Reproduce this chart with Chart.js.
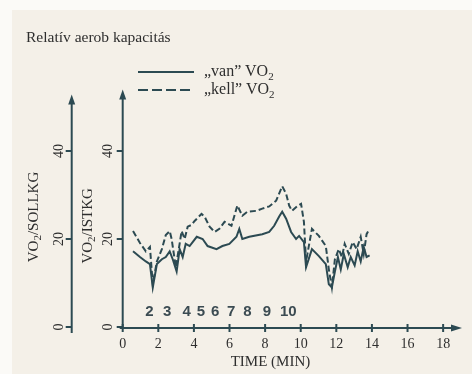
<!DOCTYPE html>
<html lang="hu">
<head>
  <meta charset="UTF-8" />
  <title>Relatív aerob kapacitás</title>
  <script src="https://cdn.jsdelivr.net/npm/chart.js"></script>
  <style>
    html, body {
      margin: 0;
      padding: 0;
      background: #fbfaf7;
    }
    body {
      width: 472px;
      height: 374px;
      position: relative;
      overflow: hidden;
      font-family: "Liberation Serif", serif;
      color: #2e2e2e;
    }
    #paper {
      position: absolute;
      left: 12px; top: 10px; right: 0; bottom: 0;
      background: #f4f0e8;
    }
    #chart { position: absolute; left: 0; top: 0; }
    #title {
      position: absolute;
      left: 26px; top: 28px;
      font-size: 15.5px;
      line-height: 18px;
    }
    .sw {
      position: absolute;
      left: 138px;
      width: 56px;
      height: 2px;
    }
    .solid { background: #2c4a52; }
    .dashed { background: repeating-linear-gradient(to right, #2c4a52 0 10px, transparent 10px 14px); }
    .legtxt {
      position: absolute;
      left: 204px;
      font-size: 16px;
      line-height: 18px;
    }
    .legtxt sub { font-size: 11px; vertical-align: -4px; line-height: 0; }
  </style>
</head>
<body>
  <div id="paper"></div>
  <canvas id="chart" width="472" height="374"></canvas>
  <div id="title">Relatív aerob kapacitás</div>
  <div class="sw solid" style="top:71px"></div>
  <div class="legtxt" style="top:62px">„van” VO<sub>2</sub></div>
  <div class="sw dashed" style="top:89px"></div>
  <div class="legtxt" style="top:80px">„kell” VO<sub>2</sub></div>

  <script>
    // "kell" VO2 (dashed) - time in min, value
    const kellTime = [0.58, 0.97, 1.30, 1.53, 1.69, 1.92, 2.20, 2.42, 2.64, 2.75, 2.98, 3.15, 3.31, 3.48, 3.65, 3.87,
      4.04, 4.43, 4.60, 4.88, 5.16, 5.43, 5.72, 6.11, 6.44, 6.72, 7.00, 7.50, 7.84, 8.23, 8.62, 8.96, 9.18, 9.35,
      9.51, 9.79, 10.02, 10.18, 10.30, 10.63, 11.02, 11.41, 11.58, 11.75, 11.92, 12.14, 12.31, 12.47, 12.70, 12.92,
      13.14, 13.37, 13.54, 13.70, 13.87];
    const kellValue = [21.8, 19.1, 17.2, 18.2, 9.7, 14.9, 17.7, 20.9, 21.8, 20.0, 13.6, 17.7, 21.8, 20.0, 22.8, 23.2,
      24.1, 25.7, 25.1, 22.8, 21.6, 22.3, 23.9, 23.0, 27.6, 25.3, 26.2, 26.4, 26.9, 27.4, 28.7, 32.0, 30.3, 27.6,
      26.4, 27.4, 28.0, 23.9, 14.9, 22.3, 20.7, 18.4, 13.1, 9.0, 15.4, 17.7, 15.9, 18.9, 16.6, 19.3,
      17.7, 20.5, 16.6, 21.1, 22.3];

    // "van" VO2 (solid)
    const vanTime = [0.58, 0.97, 1.30, 1.53, 1.69, 1.92, 2.20, 2.42, 2.64, 2.81, 3.03, 3.20, 3.37, 3.54, 3.76, 4.16,
      4.49, 4.77, 5.27, 5.60, 5.99, 6.39, 6.55, 6.72, 7.11, 7.84, 8.23, 8.51, 8.79, 8.96, 9.18, 9.46, 9.74, 9.91,
      10.18, 10.30, 10.63, 11.02, 11.41, 11.58, 11.75, 11.92, 12.09, 12.25, 12.42, 12.64, 12.81, 13.03, 13.20,
      13.37, 13.54, 13.70, 13.87];
    const vanValue = [17.2, 15.9, 14.9, 14.3, 9.0, 14.3, 15.4, 15.9, 17.2, 15.4, 12.6, 17.7, 15.9, 18.9, 18.4, 20.5,
      20.0, 18.4, 17.7, 18.4, 18.9, 20.5, 22.3, 20.0, 20.5, 21.1, 21.6, 23.0, 25.1, 26.2, 24.6, 21.6, 20.0, 20.7,
      19.3, 13.6, 17.7, 16.1, 14.3, 9.7, 9.0, 12.6, 15.9, 13.1, 16.6, 13.6, 15.9, 14.0, 17.2,
      14.9, 18.2, 15.9, 16.3];

    const xTicks = [0, 2, 4, 6, 8, 10, 12, 14, 16, 18];
    const yTicks = [0, 20, 40];

    // stage numbers printed under the curves
    const stageLabels = ['2', '3', '4', '5', '6', '7', '8', '9', '10'];
    const stageTime = [1.5, 2.5, 3.6, 4.4, 5.2, 6.1, 7.0, 8.1, 9.3];
    const stageY = 3.4;

    const INK = '#2c4a52';
    const TXT = '#2e2e2e';
    const SERIF = '"Liberation Serif", serif';

    function arrowUp(ctx, x, y) {
      ctx.beginPath();
      ctx.moveTo(x, y);
      ctx.lineTo(x - 3.5, y + 10);
      ctx.lineTo(x + 3.5, y + 10);
      ctx.closePath();
      ctx.fill();
    }

    function arrowRight(ctx, x, y) {
      ctx.beginPath();
      ctx.moveTo(x, y);
      ctx.lineTo(x - 11, y - 3.5);
      ctx.lineTo(x - 11, y + 3.5);
      ctx.closePath();
      ctx.fill();
    }

    // rotated "VO2/..." text, centred on cx, cy
    function vertTitle(ctx, rest, cx, cy) {
      ctx.save();
      ctx.translate(cx, cy);
      ctx.rotate(-Math.PI / 2);
      ctx.textBaseline = 'middle';
      ctx.textAlign = 'left';
      ctx.font = '15px ' + SERIF;
      const w1 = ctx.measureText('VO').width;
      const w3 = ctx.measureText(rest).width;
      ctx.font = '11px ' + SERIF;
      const w2 = ctx.measureText('2').width;
      let x = -(w1 + w2 + w3) / 2;
      ctx.font = '15px ' + SERIF;
      ctx.fillText('VO', x, 0);
      x += w1;
      ctx.font = '11px ' + SERIF;
      ctx.fillText('2', x, 4);
      x += w2;
      ctx.font = '15px ' + SERIF;
      ctx.fillText(rest, x, 0);
      ctx.restore();
    }

    const axesPlugin = {
      id: 'axes',
      beforeDatasetsDraw(chart) {
        const { ctx, scales: { x, y } } = chart;
        const x0 = x.getPixelForValue(0);
        const y0 = y.getPixelForValue(0);
        const outerX = x0 - 51;

        ctx.save();
        ctx.strokeStyle = INK;
        ctx.fillStyle = INK;
        ctx.lineWidth = 2;

        // x axis
        ctx.beginPath();
        ctx.moveTo(x0 - 3, y0 + 1);
        ctx.lineTo(x.right - 8, y0 + 1);
        ctx.stroke();
        arrowRight(ctx, x.right, y0 + 1);
        xTicks.forEach(v => {
          const px = x.getPixelForValue(v);
          ctx.beginPath();
          ctx.moveTo(px, y0 - 3);
          ctx.lineTo(px, y0 + 5);
          ctx.stroke();
        });

        // inner y axis (IST)
        ctx.beginPath();
        ctx.moveTo(x0, y0 + 2);
        ctx.lineTo(x0, y.top + 8);
        ctx.stroke();
        arrowUp(ctx, x0, y.top);

        // outer y axis (SOLL)
        ctx.beginPath();
        ctx.moveTo(outerX, y0 + 6);
        ctx.lineTo(outerX, y.top + 13);
        ctx.stroke();
        arrowUp(ctx, outerX, y.top + 5);

        yTicks.forEach(v => {
          const py = y.getPixelForValue(v);
          [x0, outerX].forEach(ax => {
            ctx.beginPath();
            ctx.moveTo(ax - 6, py);
            ctx.lineTo(ax, py);
            ctx.stroke();
          });
        });

        // tick labels
        ctx.fillStyle = TXT;
        ctx.font = '14px ' + SERIF;
        ctx.textAlign = 'center';
        ctx.textBaseline = 'middle';
        xTicks.forEach(v => ctx.fillText(String(v), x.getPixelForValue(v), y0 + 17));

        yTicks.forEach(v => {
          const py = y.getPixelForValue(v);
          [x0 - 14, outerX - 12].forEach(lx => {
            ctx.save();
            ctx.translate(lx, py);
            ctx.rotate(-Math.PI / 2);
            ctx.fillText(String(v), 0, 0);
            ctx.restore();
          });
        });

        // axis titles
        ctx.font = '15px ' + SERIF;
        ctx.fillText('TIME (MIN)', x.getPixelForValue(8.3), y0 + 35);
        vertTitle(ctx, '/SOLLKG', outerX - 38, y.getPixelForValue(25));
        vertTitle(ctx, '/ISTKG', x0 - 35, y.getPixelForValue(23));

        // stage numbers
        ctx.fillStyle = '#3b4b52';
        ctx.font = 'bold 15px "Liberation Sans", sans-serif';
        stageLabels.forEach((s, i) => {
          ctx.fillText(s, x.getPixelForValue(stageTime[i]), y.getPixelForValue(stageY));
        });

        ctx.restore();
      }
    };

    const toPoints = (t, v) => t.map((tt, i) => ({ x: tt, y: v[i] }));

    new Chart(document.getElementById('chart').getContext('2d'), {
      type: 'line',
      data: {
        datasets: [
          {
            label: '„van” VO2',
            data: toPoints(vanTime, vanValue),
            borderColor: INK,
            borderWidth: 2,
            pointRadius: 0,
            tension: 0,
            fill: false
          },
          {
            label: '„kell” VO2',
            data: toPoints(kellTime, kellValue),
            borderColor: INK,
            borderWidth: 2,
            borderDash: [6, 3],
            pointRadius: 0,
            tension: 0,
            fill: false
          }
        ]
      },
      options: {
        responsive: false,
        animation: false,
        devicePixelRatio: 1,
        layout: { padding: { left: 122.7, top: 89.4, right: 10, bottom: 47 } },
        scales: {
          x: { type: 'linear', min: 0, max: 19.06, display: false },
          y: { type: 'linear', min: 0, max: 54, display: false }
        },
        plugins: {
          legend: { display: false },
          tooltip: { enabled: false }
        }
      },
      plugins: [axesPlugin]
    });
  </script>
</body>
</html>
